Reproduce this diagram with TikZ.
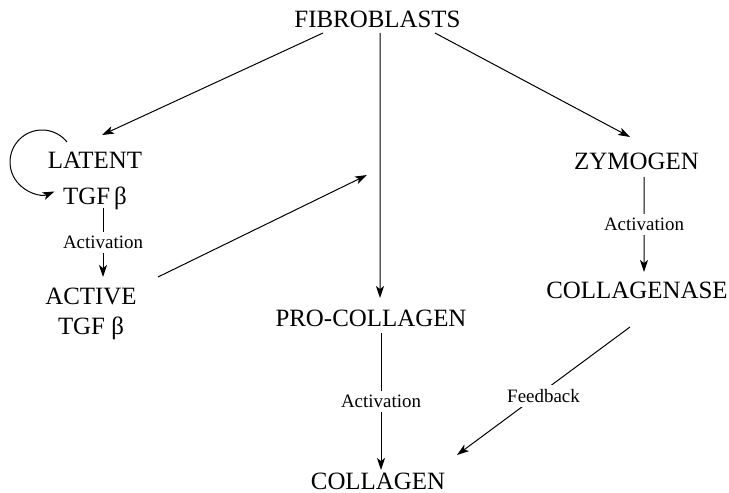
\documentclass[tikz,border=0pt]{standalone}
\usepackage{fontspec}
\setmainfont{Liberation Serif}
\usetikzlibrary{arrows.meta}
\tikzset{
  big/.style={font=\fontsize{25}{30}\selectfont, inner sep=0pt},
  twoline/.style={big, align=center},
  lbl/.style={font=\fontsize{19}{22}\selectfont, fill=white, inner sep=4pt},
  arr/.style={-{Stealth[length=12pt,width=8pt,inset=3pt]}, line width=1pt}
}
\begin{document}
\begin{tikzpicture}[x=1bp, y=-1bp]
\useasboundingbox (0,0) rectangle (729,493);
\node[big, anchor=base] (fib) at (377.5,28) {FIBROBLASTS};
\node[twoline] (latent) at (95,181) {LATENT\\[6pt]TGF$\,$β};
\node[twoline] (active) at (91,314) {ACTIVE\\TGF β};
\node[big, anchor=base] (zym) at (636.5,170) {ZYMOGEN};
\node[big, anchor=base] (clgase) at (637,298) {COLLAGENASE};
\node[big, anchor=base] (procol) at (371,326) {PRO-COLLAGEN};
\node[big, anchor=base] (col) at (378,489) {COLLAGEN};
\coordinate (hit) at (367,175);

\draw[arr] ([shift={(-54.5,5)}]fib.base) -- ([shift={(7,-46)}]latent.center);
\draw[arr] ([shift={(2.5,5)}]fib.base) -- ([shift={(9,-28)}]procol.base);
\draw[arr] ([shift={(57.5,5)}]fib.base) -- ([shift={(-6.5,-33)}]zym.base);
\draw[arr] ([shift={(-28,-39)}]latent.center)
  arc[start angle=-38.7, end angle=-293, radius=32];
\draw[arr] ([shift={(8,27)}]latent.center) -- node[lbl]{Activation} ([shift={(12,-37)}]active.center);
\draw[arr] ([shift={(67,-37)}]active.center) -- (hit);
\draw[arr] ([shift={(7.5,7)}]zym.base) -- node[lbl]{Activation} ([shift={(7,-26)}]clgase.base);
\draw[arr] ([shift={(10,7)}]procol.base) -- node[lbl]{Activation} ([shift={(3,-19)}]col.base);
\draw[arr] ([shift={(-7,29)}]clgase.base) -- node[lbl, yshift=-5pt]{Feedback} ([shift={(79,-34)}]col.base);
\end{tikzpicture}
\end{document}
